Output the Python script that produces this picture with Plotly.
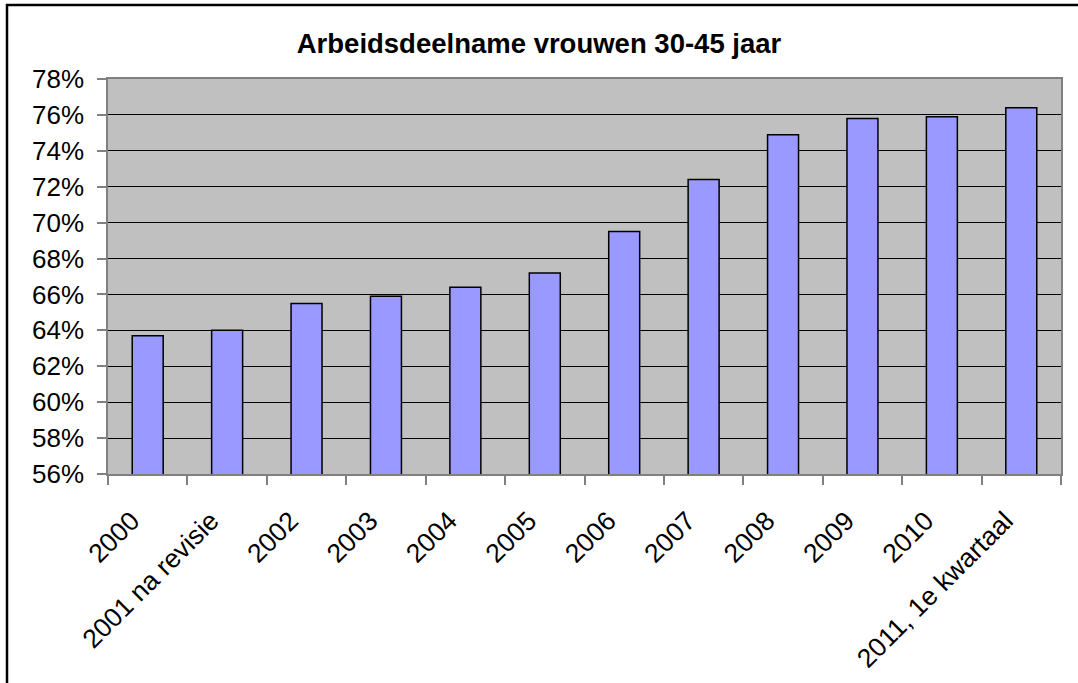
import plotly.graph_objects as go

# data
categories = ["2000", "2001 na revisie", "2002", "2003", "2004", "2005", "2006",
              "2007", "2008", "2009", "2010", "2011, 1e kwartaal"]
values = [0.637, 0.640, 0.655, 0.659, 0.664, 0.672, 0.695,
          0.724, 0.749, 0.758, 0.759, 0.764]
y_ticks = [0.56, 0.58, 0.60, 0.62, 0.64, 0.66, 0.68, 0.70, 0.72, 0.74, 0.76, 0.78]

font = "Arial, Liberation Sans, sans-serif"

fig = go.Figure()
fig.add_trace(go.Bar(x=categories, y=values, width=0.39,
                     marker=dict(color="#9999FF", line=dict(color="black", width=1.5))))

fig.update_layout(
    width=1078, height=683,
    margin=dict(l=108, r=17, t=79, b=209),
    paper_bgcolor="white", plot_bgcolor="#C0C0C0",
    showlegend=False,
    font=dict(family=font, size=25, color="black"),
    title=dict(text="<b>Arbeidsdeelname vrouwen 30-45 jaar</b>", x=0.5, xanchor="center",
               y=1 - 53 / 683, yanchor="bottom", font=dict(size=27.5, family=font)),
)

fig.update_yaxes(range=[0.56, 0.78], tickvals=y_ticks, tickformat=".0%",
                 tickfont=dict(size=26), automargin=False,
                 showgrid=True, gridcolor="black", gridwidth=1,
                 showline=True, linecolor="#808080", linewidth=1.5, mirror=True,
                 ticks="outside", ticklen=9, tickcolor="#808080", tickwidth=1.5,
                 ticklabelstandoff=8, zeroline=False, fixedrange=True)
fig.update_xaxes(tickangle=-45, tickson="boundaries", ticks="outside", ticklen=9,
                 tickcolor="#808080", tickwidth=1.5, tickfont=dict(size=26.5),
                 ticklabelstandoff=19, ticklabelshift=-16, automargin=False,
                 showline=True, linecolor="#808080", linewidth=1.5, mirror=True,
                 showgrid=False, fixedrange=True)

# outer chart border (continues past the cropped right and bottom edges)
fig.add_shape(type="rect", xref="paper", yref="paper",
              x0=(7 - 108) / 953, x1=1.1, y0=-0.7, y1=1 + (79 - 5) / 395,
              line=dict(color="black", width=2.5), fillcolor="rgba(0,0,0,0)", layer="below")

# drop the default page margin so the figure sits at the window origin
fig.write_html("out.html", config={"displayModeBar": False},
               post_script="document.body.style.margin='0';")
